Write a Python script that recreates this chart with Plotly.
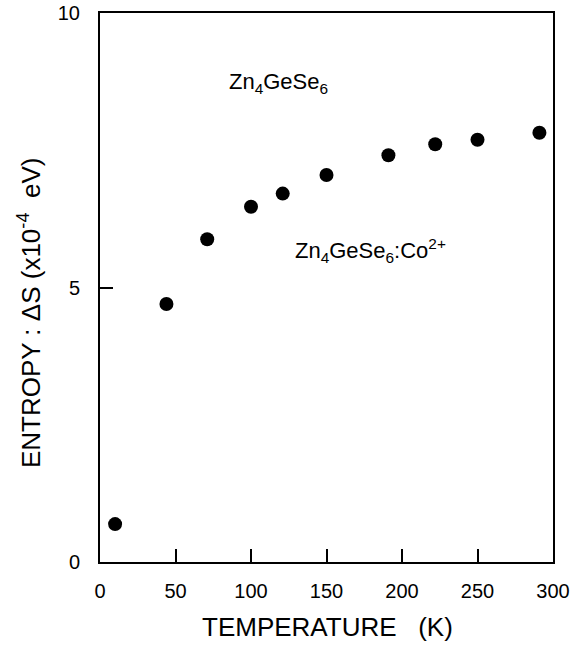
import plotly.graph_objects as go

temperature = [10, 44, 71, 100, 121, 150, 191, 222, 250, 291]
entropy = [0.69, 4.70, 5.88, 6.47, 6.71, 7.05, 7.41, 7.61, 7.69, 7.82]

x_ticks = [0, 50, 100, 150, 200, 250, 300]
y_ticks = [0, 5, 10]

fig = go.Figure()
fig.add_trace(go.Scatter(
    x=temperature, y=entropy, mode="markers",
    marker=dict(color="black", size=14, line=dict(width=0)),
    showlegend=False,
))

font = dict(family="Liberation Sans, Arial, sans-serif", color="black")

fig.add_annotation(x=118, y=8.72, xref="x", yref="y", text="Zn<sub>4</sub>GeSe<sub>6</sub>",
                   showarrow=False, font=dict(size=22, **font))
fig.add_annotation(x=179, y=5.68, xref="x", yref="y", text="Zn<sub>4</sub>GeSe<sub>6</sub>:Co<sup>2+</sup>",
                   showarrow=False, font=dict(size=22, **font))

# axis titles
fig.add_annotation(x=0.502, y=-0.118, xref="paper", yref="paper", yanchor="middle",
                   text="TEMPERATURE   (K)", showarrow=False, font=dict(size=26, **font))
fig.add_annotation(x=-0.157, y=0.455, xref="paper", yref="paper", xanchor="center", yanchor="middle",
                   text="ENTROPY : \u0394S (x10<sup>-4</sup>  eV)", textangle=-90,
                   showarrow=False, font=dict(size=26, **font))

fig.update_layout(
    width=579, height=646,
    margin=dict(l=100, r=26, t=13, b=84),
    plot_bgcolor="white", paper_bgcolor="white",
    font=dict(size=20, **font),
    xaxis=dict(range=[0, 300], tickvals=x_ticks, ticktext=[str(v) for v in x_ticks],
               ticks="inside", ticklen=13, tickwidth=1.5, tickcolor="black",
               showline=True, linecolor="black", linewidth=2, mirror=True,
               showgrid=False, zeroline=False, automargin=False,
               ticklabeloverflow="allow",
               ticklabelstandoff=10, tickfont=dict(size=20, **font)),
    yaxis=dict(range=[0, 10], tickvals=y_ticks, ticktext=[str(v) for v in y_ticks],
               ticks="inside", ticklen=13, tickwidth=1.5, tickcolor="black",
               showline=True, linecolor="black", linewidth=2, mirror=True,
               showgrid=False, zeroline=False, automargin=False,
               ticklabeloverflow="allow",
               ticklabelstandoff=14, tickfont=dict(size=20, **font)),
)

fig.write_html("out.html", config={"displayModeBar": False},
               post_script="document.body.style.margin='0';document.body.style.padding='0';")
